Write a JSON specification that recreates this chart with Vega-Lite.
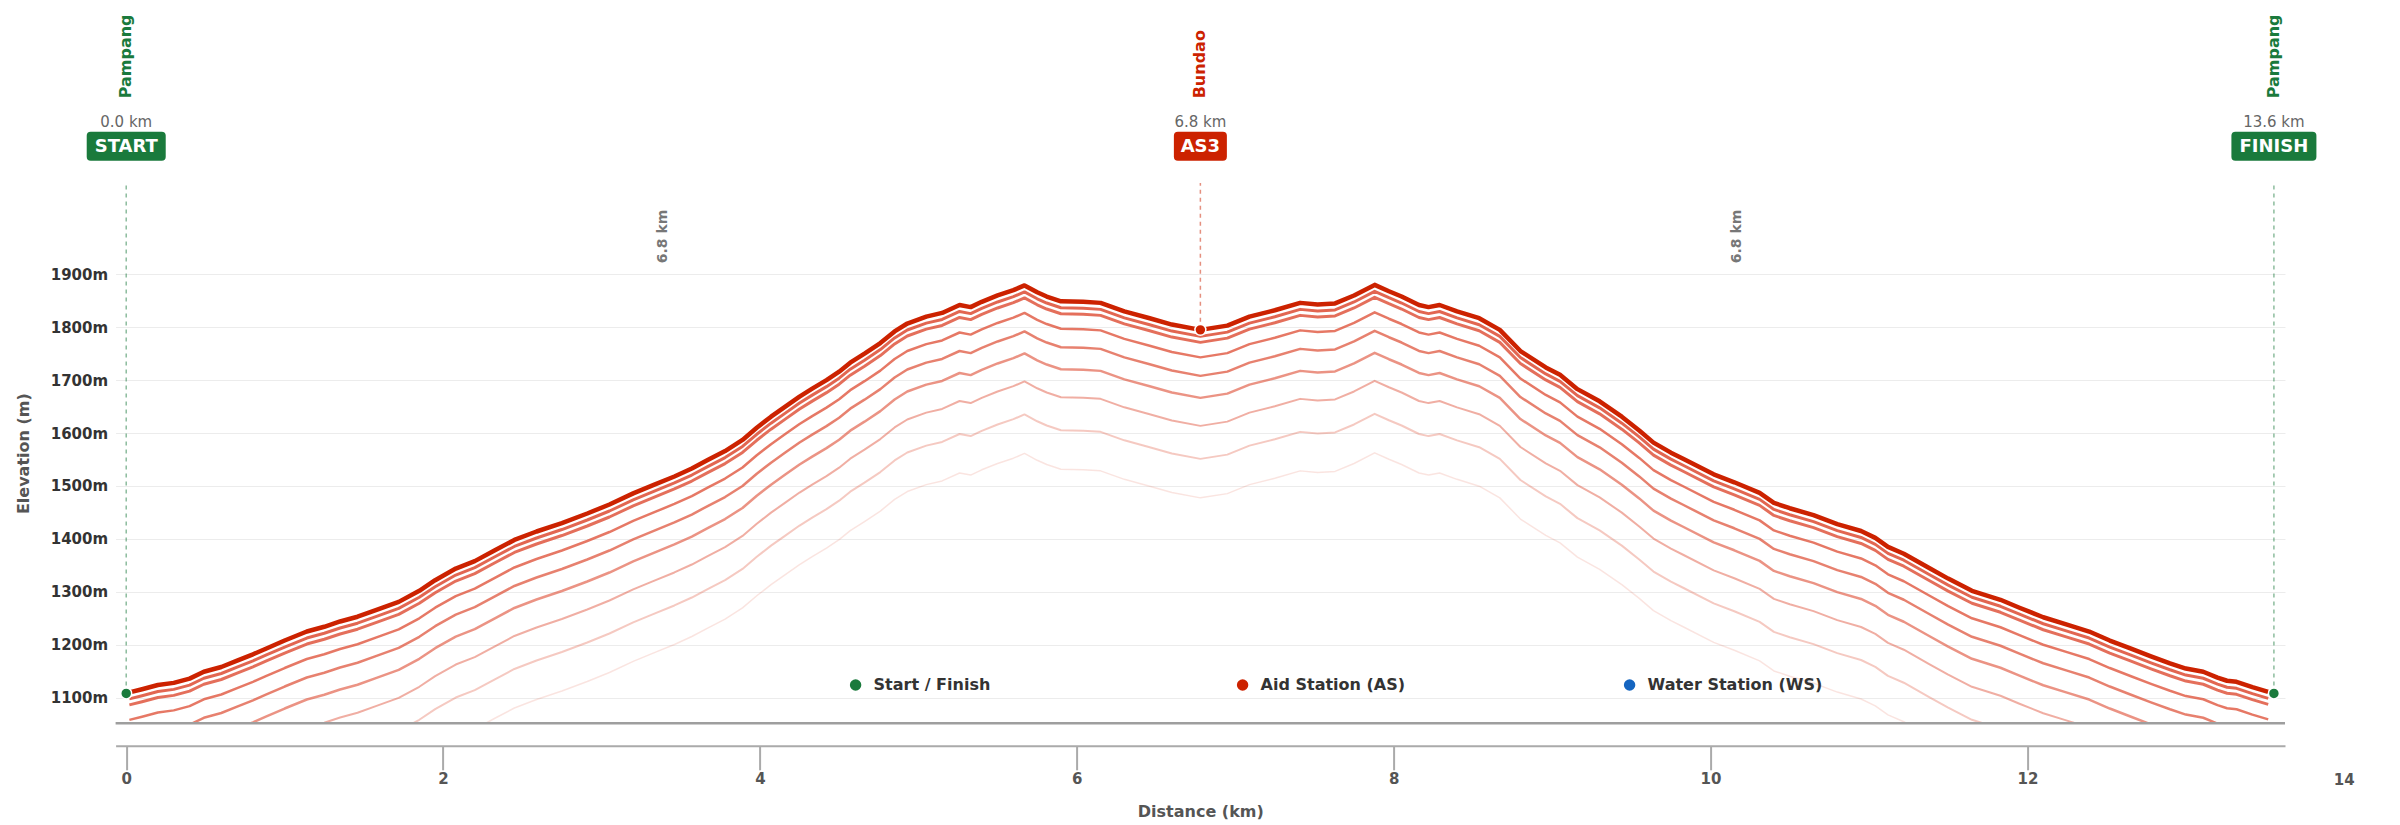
{
  "$schema": "https://vega.github.io/schema/vega-lite/v6.json",
  "width": 2169.4,
  "height": 540.3,
  "autosize": "none",
  "padding": {"left": 115.6, "top": 183, "right": 115, "bottom": 101.7},
  "background": "white",
  "config": {"font": "DejaVu Sans", "view": {"stroke": null}},
  "datasets": {
    "profile": [
      {"d": 0.02, "e": 1110}, {"d": 0.1, "e": 1116}, {"d": 0.2, "e": 1124}, {"d": 0.3, "e": 1128},
      {"d": 0.4, "e": 1136}, {"d": 0.49, "e": 1149}, {"d": 0.6, "e": 1158}, {"d": 0.7, "e": 1170},
      {"d": 0.8, "e": 1182}, {"d": 0.885, "e": 1193}, {"d": 1.0, "e": 1208}, {"d": 1.14, "e": 1225},
      {"d": 1.25, "e": 1234}, {"d": 1.35, "e": 1244}, {"d": 1.46, "e": 1253}, {"d": 1.58, "e": 1266},
      {"d": 1.72, "e": 1281}, {"d": 1.85, "e": 1302}, {"d": 1.95, "e": 1322}, {"d": 2.08, "e": 1344},
      {"d": 2.2, "e": 1358}, {"d": 2.33, "e": 1379}, {"d": 2.45, "e": 1398}, {"d": 2.59, "e": 1414},
      {"d": 2.75, "e": 1430}, {"d": 2.91, "e": 1448}, {"d": 3.05, "e": 1465}, {"d": 3.2, "e": 1486},
      {"d": 3.33, "e": 1502}, {"d": 3.46, "e": 1518}, {"d": 3.57, "e": 1533}, {"d": 3.67, "e": 1549},
      {"d": 3.78, "e": 1566}, {"d": 3.89, "e": 1587}, {"d": 3.98, "e": 1610}, {"d": 4.07, "e": 1631},
      {"d": 4.16, "e": 1650}, {"d": 4.25, "e": 1669}, {"d": 4.33, "e": 1684}, {"d": 4.42, "e": 1700},
      {"d": 4.5, "e": 1716}, {"d": 4.57, "e": 1733}, {"d": 4.66, "e": 1750}, {"d": 4.76, "e": 1770},
      {"d": 4.85, "e": 1792}, {"d": 4.93, "e": 1807}, {"d": 5.05, "e": 1820}, {"d": 5.15, "e": 1827},
      {"d": 5.26, "e": 1842}, {"d": 5.33, "e": 1838}, {"d": 5.4, "e": 1848}, {"d": 5.5, "e": 1860},
      {"d": 5.6, "e": 1870}, {"d": 5.67, "e": 1879}, {"d": 5.75, "e": 1866}, {"d": 5.81, "e": 1858},
      {"d": 5.9, "e": 1849}, {"d": 6.04, "e": 1848}, {"d": 6.15, "e": 1846}, {"d": 6.3, "e": 1830},
      {"d": 6.46, "e": 1817}, {"d": 6.6, "e": 1805}, {"d": 6.78, "e": 1795}, {"d": 6.95, "e": 1803},
      {"d": 7.09, "e": 1820}, {"d": 7.25, "e": 1832}, {"d": 7.41, "e": 1846}, {"d": 7.52, "e": 1843},
      {"d": 7.63, "e": 1845}, {"d": 7.75, "e": 1860}, {"d": 7.88, "e": 1880}, {"d": 7.97, "e": 1868},
      {"d": 8.05, "e": 1858}, {"d": 8.16, "e": 1842}, {"d": 8.22, "e": 1838}, {"d": 8.29, "e": 1842},
      {"d": 8.4, "e": 1830}, {"d": 8.54, "e": 1817}, {"d": 8.67, "e": 1795}, {"d": 8.8, "e": 1755},
      {"d": 8.96, "e": 1724}, {"d": 9.05, "e": 1710}, {"d": 9.16, "e": 1683}, {"d": 9.3, "e": 1660},
      {"d": 9.44, "e": 1631}, {"d": 9.55, "e": 1605}, {"d": 9.64, "e": 1582}, {"d": 9.75, "e": 1563},
      {"d": 9.83, "e": 1551}, {"d": 10.02, "e": 1522}, {"d": 10.15, "e": 1507}, {"d": 10.31, "e": 1487},
      {"d": 10.4, "e": 1468}, {"d": 10.5, "e": 1458}, {"d": 10.65, "e": 1445}, {"d": 10.8, "e": 1428},
      {"d": 10.95, "e": 1415}, {"d": 11.04, "e": 1402}, {"d": 11.12, "e": 1385}, {"d": 11.22, "e": 1372},
      {"d": 11.38, "e": 1345}, {"d": 11.5, "e": 1325}, {"d": 11.65, "e": 1302}, {"d": 11.83, "e": 1285},
      {"d": 11.95, "e": 1270}, {"d": 12.1, "e": 1252}, {"d": 12.25, "e": 1238}, {"d": 12.39, "e": 1225},
      {"d": 12.52, "e": 1208}, {"d": 12.65, "e": 1193}, {"d": 12.78, "e": 1178}, {"d": 12.9, "e": 1165},
      {"d": 13.0, "e": 1155}, {"d": 13.11, "e": 1149}, {"d": 13.2, "e": 1138}, {"d": 13.26, "e": 1132},
      {"d": 13.32, "e": 1130}, {"d": 13.42, "e": 1120}, {"d": 13.52, "e": 1111}
    ],
    "stations": [
      {"d": 0, "e": 1108, "name": "Pampang", "type": "Start / Finish", "badge": "START", "dist": "0.0 km"},
      {"d": 6.78, "e": 1795, "name": "Bundao", "type": "Aid Station (AS)", "badge": "AS3", "dist": "6.8 km"},
      {"d": 13.556, "e": 1108, "name": "Pampang", "type": "Start / Finish", "badge": "FINISH", "dist": "13.6 km"}
    ],
    "segments": [
      {"d": 3.39, "label": "6.8 km"},
      {"d": 10.17, "label": "6.8 km"}
    ],
    "extra": [
      {"d": 14, "label": "14"}
    ]
  },
  "layer": [
    {
      "data": {"name": "stations"},
      "mark": {"type": "rule", "strokeDash": [4, 4], "strokeWidth": 1.5, "opacity": 0.5},
      "encoding": {
        "x": {"field": "d", "type": "quantitative"},
        "y": {"field": "e", "type": "quantitative"},
        "y2": {"datum": 2072.5},
        "stroke": {"field": "type", "type": "nominal", "legend": null,
          "scale": {"domain": ["Start / Finish", "Aid Station (AS)"], "range": ["#1a7a3c", "#cc2200"]}}
      }
    },
    {
      "data": {"name": "profile"},
      "mark": {"type": "line", "color": "#dd4b32", "strokeWidth": 1.5, "opacity": 0.15, "yOffset": 168, "clip": true, "strokeJoin": "round"},
      "encoding": {"x": {"field": "d", "type": "quantitative"}, "y": {"field": "e", "type": "quantitative"}}
    },
    {
      "data": {"name": "profile"},
      "mark": {"type": "line", "color": "#dd4b32", "strokeWidth": 2, "opacity": 0.3, "yOffset": 129, "clip": true, "strokeJoin": "round"},
      "encoding": {"x": {"field": "d", "type": "quantitative"}, "y": {"field": "e", "type": "quantitative"}}
    },
    {
      "data": {"name": "profile"},
      "mark": {"type": "line", "color": "#dd4b32", "strokeWidth": 2, "opacity": 0.45, "yOffset": 96, "clip": true, "strokeJoin": "round"},
      "encoding": {"x": {"field": "d", "type": "quantitative"}, "y": {"field": "e", "type": "quantitative"}}
    },
    {
      "data": {"name": "profile"},
      "mark": {"type": "line", "color": "#dd4b32", "strokeWidth": 2.5, "opacity": 0.6, "yOffset": 68, "clip": true, "strokeJoin": "round"},
      "encoding": {"x": {"field": "d", "type": "quantitative"}, "y": {"field": "e", "type": "quantitative"}}
    },
    {
      "data": {"name": "profile"},
      "mark": {"type": "line", "color": "#dd4b32", "strokeWidth": 2.5, "opacity": 0.7, "yOffset": 46, "clip": true, "strokeJoin": "round"},
      "encoding": {"x": {"field": "d", "type": "quantitative"}, "y": {"field": "e", "type": "quantitative"}}
    },
    {
      "data": {"name": "profile"},
      "mark": {"type": "line", "color": "#dd4b32", "strokeWidth": 2.5, "opacity": 0.75, "yOffset": 27.5, "clip": true, "strokeJoin": "round"},
      "encoding": {"x": {"field": "d", "type": "quantitative"}, "y": {"field": "e", "type": "quantitative"}}
    },
    {
      "data": {"name": "profile"},
      "mark": {"type": "line", "color": "#dd4b32", "strokeWidth": 3, "opacity": 0.8, "yOffset": 12.5, "clip": true, "strokeJoin": "round"},
      "encoding": {"x": {"field": "d", "type": "quantitative"}, "y": {"field": "e", "type": "quantitative"}}
    },
    {
      "data": {"name": "profile"},
      "mark": {"type": "line", "color": "#dd4b32", "strokeWidth": 3, "opacity": 0.85, "yOffset": 6.5, "clip": true, "strokeJoin": "round"},
      "encoding": {"x": {"field": "d", "type": "quantitative"}, "y": {"field": "e", "type": "quantitative"}}
    },
    {
      "data": {"values": [{}]},
      "mark": {"type": "rule", "color": "#9e9e9e", "strokeWidth": 2.5},
      "encoding": {"y": {"datum": 1051.6, "type": "quantitative"}}
    },
    {
      "data": {"name": "profile"},
      "mark": {"type": "line", "color": "#cc2200", "strokeWidth": 4.5, "strokeJoin": "round", "clip": true},
      "encoding": {
        "x": {
          "field": "d", "type": "quantitative", "title": "Distance (km)",
          "scale": {"domain": [-0.067, 13.626], "nice": false, "zero": false},
          "axis": {
            "values": [0, 2, 4, 6, 8, 10, 12], "format": "d", "grid": false, "offset": 22.5,
            "domainColor": "#aaaaaa", "domainWidth": 2, "tickColor": "#aaaaaa", "tickWidth": 2, "tickSize": 24,
            "labelPadding": 2, "labelFontSize": 15, "labelFontWeight": "bold", "labelColor": "#555555",
            "titleFontSize": 16, "titleFontWeight": "bold", "titleColor": "#555555", "titlePadding": 17
          }
        },
        "y": {
          "field": "e", "type": "quantitative", "title": "Elevation (m)",
          "scale": {"domain": [1051.6, 2072.5], "nice": false, "zero": false},
          "axis": {
            "values": [1100, 1200, 1300, 1400, 1500, 1600, 1700, 1800, 1900], "labelExpr": "datum.value + 'm'",
            "grid": true, "gridColor": "#ececec", "gridWidth": 1, "domain": false, "ticks": false,
            "labelPadding": 8, "labelFontSize": 15, "labelFontWeight": "bold", "labelColor": "#333333",
            "titleFontSize": 16, "titleFontWeight": "bold", "titleColor": "#555555", "titlePadding": 19
          }
        }
      }
    },
    {
      "data": {"name": "stations"},
      "mark": {"type": "point", "filled": true, "opacity": 1, "size": 120, "stroke": "white", "strokeWidth": 1.5, "strokeOpacity": 1},
      "encoding": {
        "x": {"field": "d", "type": "quantitative"},
        "y": {"field": "e", "type": "quantitative"},
        "color": {
          "field": "type", "type": "nominal",
          "scale": {"domain": ["Start / Finish", "Aid Station (AS)", "Water Station (WS)"], "range": ["#1a7a3c", "#cc2200", "#1565c0"]},
          "legend": {
            "title": null, "orient": "none", "legendX": 732, "legendY": 494, "direction": "horizontal",
            "gridAlign": "all", "columnPadding": 186, "padding": 0, "symbolType": "circle", "symbolSize": 130,
            "symbolStrokeWidth": 0, "symbolOpacity": 1, "labelOffset": 10, "labelFontSize": 16, "labelLimit": 400,
            "labelFontWeight": "bold", "labelColor": "#333333"
          }
        }
      }
    },
    {
      "data": {"name": "segments"},
      "mark": {"type": "text", "angle": 270, "fontSize": 14, "fontWeight": "bold", "color": "#777777", "align": "center", "baseline": "middle"},
      "encoding": {
        "x": {"field": "d", "type": "quantitative"},
        "y": {"datum": 1971.4, "type": "quantitative"},
        "text": {"field": "label"}
      }
    },
    {
      "data": {"name": "stations"},
      "mark": {"type": "text", "angle": 270, "fontSize": 16, "fontWeight": "bold", "align": "left", "baseline": "middle"},
      "encoding": {
        "x": {"field": "d", "type": "quantitative"},
        "y": {"datum": 2232.5, "type": "quantitative"},
        "text": {"field": "name"},
        "fill": {"field": "type", "type": "nominal", "legend": null,
          "scale": {"domain": ["Start / Finish", "Aid Station (AS)"], "range": ["#1a7a3c", "#cc2200"]}}
      }
    },
    {
      "data": {"name": "stations"},
      "mark": {"type": "text", "fontSize": 15, "color": "#666666", "align": "center", "baseline": "alphabetic"},
      "encoding": {
        "x": {"field": "d", "type": "quantitative"},
        "y": {"datum": 2178.9, "type": "quantitative"},
        "text": {"field": "dist"}
      }
    },
    {
      "data": {"name": "stations"},
      "mark": {"type": "point", "filled": true, "opacity": 1, "size": 4, "strokeWidth": 0},
      "encoding": {
        "x": {"field": "d", "type": "quantitative"},
        "y": {"datum": 2142.0, "type": "quantitative"},
        "fill": {"field": "type", "type": "nominal", "legend": null},
        "shape": {
          "field": "badge", "type": "nominal", "legend": null,
          "scale": {
            "domain": ["START", "AS3", "FINISH"],
            "range": [
              "M-35.5,-14.5H35.5Q39.5,-14.5,39.5,-10.5V10.5Q39.5,14.5,35.5,14.5H-35.5Q-39.5,14.5,-39.5,10.5V-10.5Q-39.5,-14.5,-35.5,-14.5Z",
              "M-22.5,-14.5H22.5Q26.5,-14.5,26.5,-10.5V10.5Q26.5,14.5,22.5,14.5H-22.5Q-26.5,14.5,-26.5,10.5V-10.5Q-26.5,-14.5,-22.5,-14.5Z",
              "M-38.5,-14.5H38.5Q42.5,-14.5,42.5,-10.5V10.5Q42.5,14.5,38.5,14.5H-38.5Q-42.5,14.5,-42.5,10.5V-10.5Q-42.5,-14.5,-38.5,-14.5Z"
            ]
          }
        }
      }
    },
    {
      "data": {"name": "stations"},
      "mark": {"type": "text", "fontSize": 18, "fontWeight": "bold", "color": "white", "align": "center", "baseline": "alphabetic"},
      "encoding": {
        "x": {"field": "d", "type": "quantitative"},
        "y": {"datum": 2131, "type": "quantitative"},
        "text": {"field": "badge"}
      }
    },
    {
      "data": {"name": "extra"},
      "mark": {"type": "text", "fontSize": 15, "fontWeight": "bold", "color": "#555555", "align": "center", "baseline": "alphabetic"},
      "encoding": {
        "x": {"field": "d", "type": "quantitative"},
        "y": {"datum": 935, "type": "quantitative"},
        "text": {"field": "label"}
      }
    }
  ]
}
